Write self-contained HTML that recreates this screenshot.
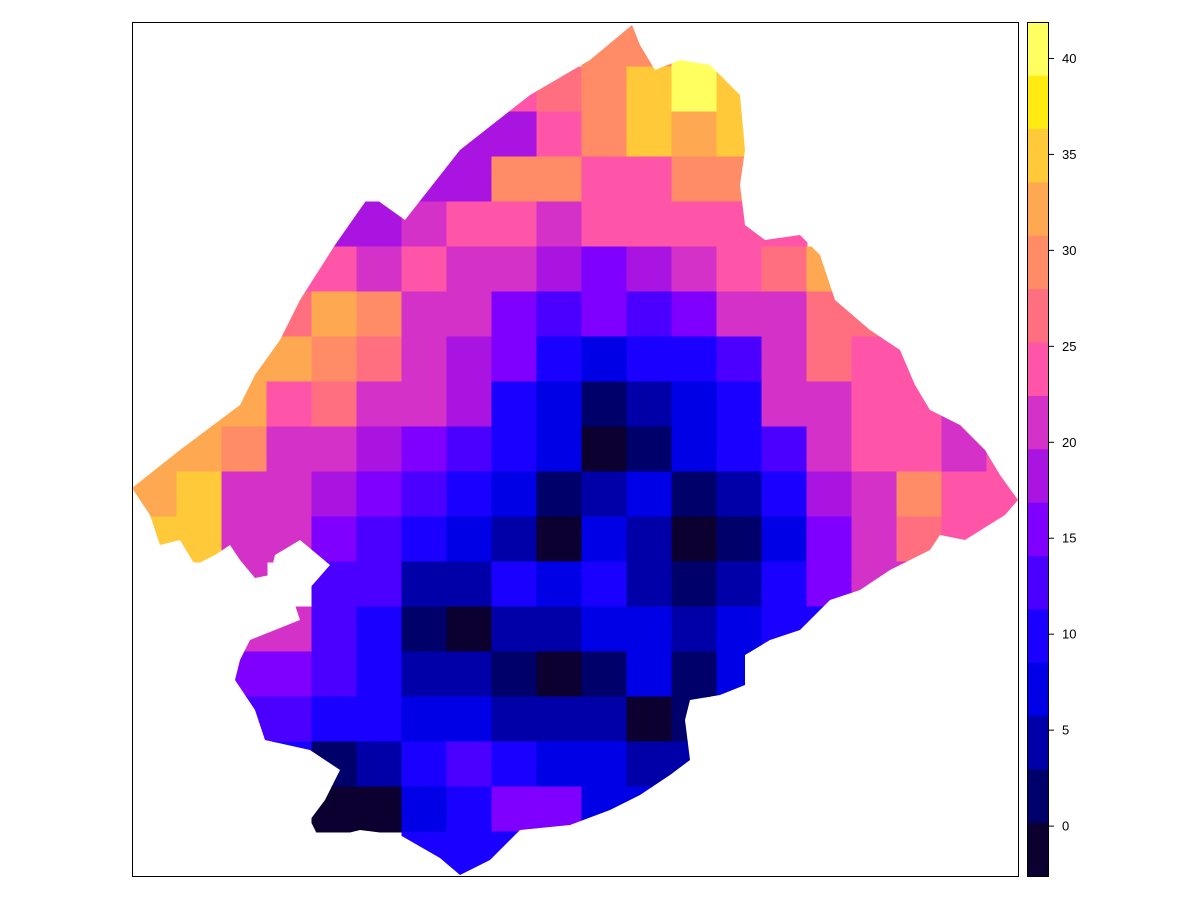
<!DOCTYPE html>
<html><head><meta charset="utf-8"><style>
html,body{margin:0;padding:0;background:#fff;}
svg{display:block;font-family:"Liberation Sans",sans-serif;}
</style></head><body>
<svg id="chart" width="1200" height="900" viewBox="0 0 1200 900" xmlns="http://www.w3.org/2000/svg">
<defs>
<clipPath id="outline"><polygon points="632,25 640,45 655,70 680,60 710,65 740,95 745,150 740,185 745,225 765,240 800,235 820,255 835,300 870,330 900,350 915,385 930,410 960,425 985,450 1000,475 1018,500 1005,515 965,540 940,535 930,550 890,570 860,590 830,600 800,630 770,640 745,655 745,685 720,695 690,700 685,720 690,760 670,775 640,795 610,810 570,825 520,830 490,860 460,875 440,858 400,835 360,830 320,840 310,820 325,800 340,770 310,750 265,740 255,710 235,680 240,660 250,640 300,620 295,605 330,565 300,540 275,555 270,575 255,578 240,560 230,545 215,555 195,565 180,540 160,545 150,515 132,488 180,450 240,405 255,375 280,340 300,300 335,245 370,195 405,220 460,150 530,95 590,60"/></clipPath>
</defs>
<g id="map" clip-path="url(#outline)"></g>
<rect x="132.5" y="22.5" width="886" height="854" fill="none" stroke="#000" stroke-width="1"/>
<g id="legend"></g>
</svg>
<script>
const bandColors=["#0c0030","#00006a","#0000a8","#0000e6","#1a00ff","#4b00ff","#7f00ff","#a914e0","#d331c7","#ff55a8","#ff6f80","#ff8c66","#ffa852","#ffc93a","#ffeb12","#ffff60"];
const tickValues=[0,5,10,15,20,25,30,35,40];
const legendMin=-2.6, legendMax=41.9;
const bandGrid=[
[-1,-1,-1,-1,-1,-1,-1,-1,-1,-1,11,11,15,-1,-1,-1,-1,-1,-1,-1],
[-1,-1,-1,-1,-1,-1,-1,-1,9,10,11,13,15,13,-1,-1,-1,-1,-1,-1],
[-1,-1,-1,-1,-1,-1,-1,7,7,9,11,13,12,13,-1,-1,-1,-1,-1,-1],
[-1,-1,-1,-1,-1,-1,7,7,11,11,9,9,11,11,-1,-1,-1,-1,-1,-1],
[-1,-1,-1,-1,7,7,8,9,9,8,9,9,9,9,9,-1,-1,-1,-1,-1],
[-1,-1,-1,9,9,8,9,8,8,7,6,7,8,9,10,12,-1,-1,-1,-1],
[-1,-1,10,10,12,11,8,8,6,5,6,5,6,8,8,10,10,-1,-1,-1],
[-1,-1,12,12,11,10,8,7,6,4,3,4,4,5,8,10,9,9,-1,-1],
[-1,12,12,9,10,8,8,7,4,3,1,2,3,4,8,8,9,9,8,-1],
[12,12,11,8,8,7,6,5,4,3,0,1,3,4,5,8,9,9,8,9],
[12,13,8,8,7,6,5,4,3,1,2,3,1,2,4,7,8,11,9,9],
[13,13,8,8,6,5,4,3,2,0,3,2,0,1,3,6,8,10,9,9],
[-1,-1,8,-1,5,5,2,2,4,3,4,2,1,2,4,6,8,8,-1,-1],
[-1,-1,8,8,5,4,1,0,2,2,3,3,2,3,4,4,-1,-1,-1,-1],
[-1,-1,6,6,5,4,2,2,1,0,1,3,1,3,-1,-1,-1,-1,-1,-1],
[-1,-1,5,5,4,4,3,3,2,2,2,0,1,-1,-1,-1,-1,-1,-1,-1],
[-1,-1,-1,4,1,2,4,5,4,3,3,2,2,-1,-1,-1,-1,-1,-1,-1],
[-1,-1,-1,-1,0,0,3,4,6,6,3,3,-1,-1,-1,-1,-1,-1,-1,-1],
[-1,-1,-1,-1,-1,-1,4,4,4,4,4,-1,-1,-1,-1,-1,-1,-1,-1,-1]
];
const NS="http://www.w3.org/2000/svg";
const cell=45, x0=132, y0=22;
function xScale(c){return x0+c*cell;}
function yScale(r){return y0+r*cell;}
const map=document.getElementById('map');
bandGrid.forEach((row,r)=>row.forEach((b,c)=>{
  if(b<0) return;
  const el=document.createElementNS(NS,'rect');
  
  
  el.setAttribute('x',xScale(c)-0.5);el.setAttribute('y',yScale(r)-0.5);
  el.setAttribute('width',cell+1);el.setAttribute('height',cell+1);
  el.setAttribute('fill',bandColors[b]);
  map.appendChild(el);
}));
const lg=document.getElementById('legend');
const lx=1027,lw=21,lTop=22,lBot=876;
function yLegend(v){return lBot-(v-legendMin)/(legendMax-legendMin)*(lBot-lTop);}
const bh=(lBot-lTop)/bandColors.length;
bandColors.forEach((col,i)=>{
  const el=document.createElementNS(NS,'rect');
  
  
  el.setAttribute('x',lx);el.setAttribute('y',lBot-(i+1)*bh-0.3);
  el.setAttribute('width',lw);el.setAttribute('height',bh+0.6);
  el.setAttribute('fill',col);
  lg.appendChild(el);
});
const fr=document.createElementNS(NS,'rect');


fr.setAttribute('x',lx+0.5);fr.setAttribute('y',lTop+0.5);fr.setAttribute('width',lw);fr.setAttribute('height',lBot-lTop);
fr.setAttribute('fill','none');fr.setAttribute('stroke','#000');
lg.appendChild(fr);
tickValues.forEach(v=>{
  const y=yLegend(v);
  const t=document.createElementNS(NS,'line');
  
  
  t.setAttribute('x1',lx+lw+1);t.setAttribute('x2',lx+lw+6);t.setAttribute('y1',y);t.setAttribute('y2',y);
  t.setAttribute('stroke','#000');
  lg.appendChild(t);
  const tx=document.createElementNS(NS,'text');
  
  
  tx.setAttribute('x',lx+lw+14);tx.setAttribute('y',y+4.5);
  tx.setAttribute('font-size','13');
  tx.textContent=v;
  lg.appendChild(tx);
});
</script>
</body></html>
